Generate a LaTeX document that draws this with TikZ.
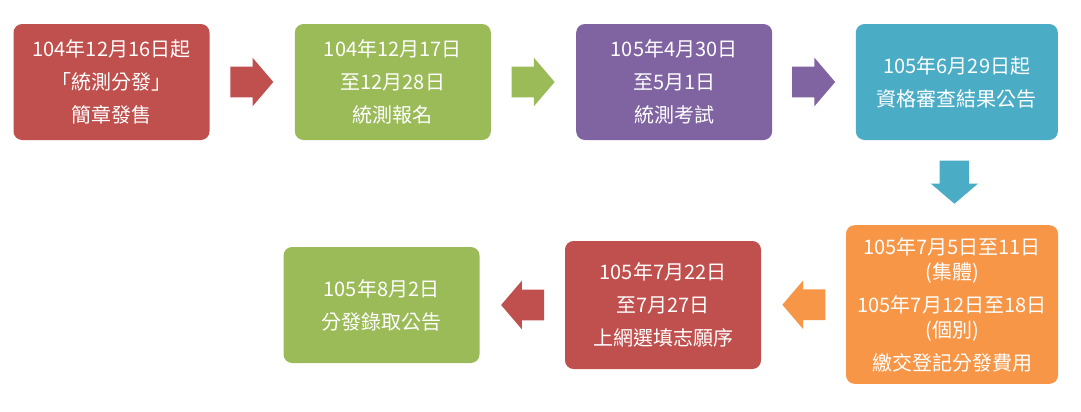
\documentclass[tikz,border=0pt]{standalone}
\usepackage{fontspec}
\newfontfamily\cjk{Noto Sans CJK TC}
\usetikzlibrary{shapes}
\usetikzlibrary{shapes.arrows}
\usetikzlibrary{calc}

\definecolor{stagered}{HTML}{C0504D}
\definecolor{stagegreen}{HTML}{9BBB59}
\definecolor{stagepurple}{HTML}{8064A2}
\definecolor{stageaqua}{HTML}{4BACC6}
\definecolor{stageorange}{HTML}{F79646}

\begin{document}
\begin{tikzpicture}[x = 0.75pt, y = -0.75pt]
\tikzset{
   node distance = 211pt,
   stage/.style = {rectangle, rounded corners = 6.5pt, minimum width = 147pt, minimum height = 87pt, text = white, align = center, inner sep = 0pt, font = \cjk\fontsize{15}{24.75}\selectfont},
   stage_red/.style = {stage, fill = stagered},
   stage_green/.style = {stage, fill = stagegreen},
   stage_purple/.style = {stage, fill = stagepurple},
   stage_aqua/.style = {stage, fill = stageaqua, minimum width = 151.5pt},
   stage_orange/.style = {stage, fill = stageorange, minimum width = 159pt, minimum height = 119pt},
   flow/.style = {single arrow, draw = none, anchor = tip, minimum height = 32.25pt, minimum width = 1pt, inner xsep = 0pt, inner ysep = 11.4pt, single arrow head extend = 6.6pt, single arrow tip angle = 99}
 }
  \useasboundingbox (0,0) rectangle (1081,411);

  % first row
  \node[stage_red] (box_sale) at (111.5,82) {104年12月16日起\\「統測分發」\\簡章發售};
  \node[stage_green] (box_signup) [right of = box_sale] {104年12月17日\\至12月28日\\統測報名};
  \node[stage_purple] (box_exam) [right of = box_signup] {105年4月30日\\至5月1日\\統測考試};
  \node[stage_aqua] (box_review) [right of = box_exam, xshift = 1pt] {105年6月29日起\\資格審查結果公告};

  % second row
  \node[stage_orange] (box_fee) at (952,304.5) {105年7月5日至11日\\[-6pt](集體)\\105年7月12日至18日\\[-6pt](個別)\\繳交登記分發費用};
  \node[stage_red, minimum height = 96pt] (box_choose) at (663,305) {105年7月22日\\至7月27日\\上網選填志願序};
  \node[stage_green] (box_admit) at (381.5,305) {105年8月2日\\分發錄取公告};

  % block arrows, placed by their tips
  \node[flow, fill = stagered] (arrow_sale) at ($(box_sale.east)!0.5!(box_signup.west) + (21.5,0)$) {};
  \node[flow, fill = stagegreen] (arrow_signup) at ($(box_signup.east)!0.5!(box_exam.west) + (21.5,0)$) {};
  \node[flow, fill = stagepurple] (arrow_exam) at ($(box_exam.east)!0.5!(box_review.west) + (21.5,0)$) {};
  \node[flow, fill = stageaqua, rotate = -90, inner ysep = 10.9pt] (arrow_review) at ($(box_review.south)!0.5!(box_fee.north) + (0,21.5)$) {};
  \node[flow, fill = stageorange, rotate = 180] (arrow_fee) at ($(box_fee.west)!0.5!(box_choose.east) + (-21.5,0)$) {};
  \node[flow, fill = stagered, rotate = 180] (arrow_choose) at ($(box_choose.west)!0.5!(box_admit.east) + (-21.5,0)$) {};

\end{tikzpicture}
\end{document}
